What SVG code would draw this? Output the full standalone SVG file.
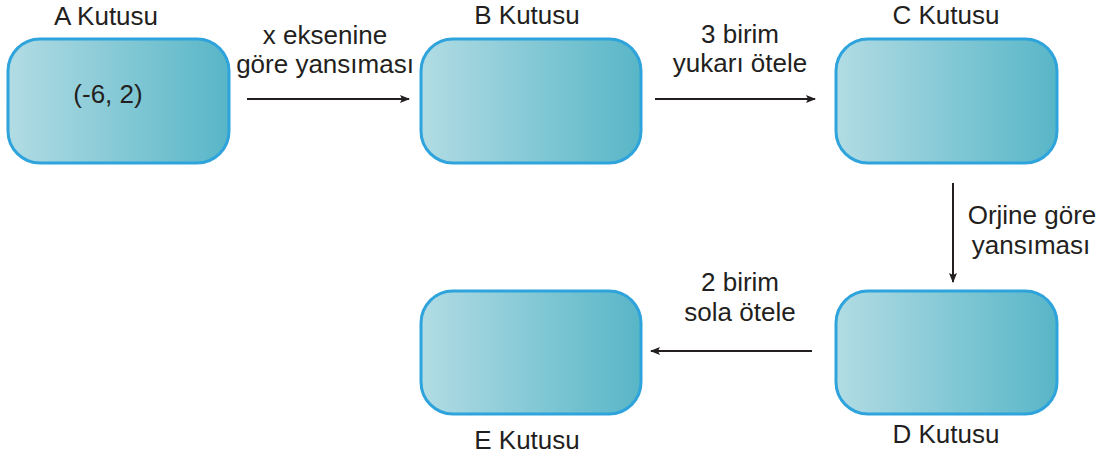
<svg xmlns="http://www.w3.org/2000/svg" width="1108" height="461" viewBox="0 0 1108 461">
<style>
text{font-family:"Liberation Sans",Arial,sans-serif;font-size:26px;fill:#231f20;text-anchor:middle}
.box{fill:url(#g);stroke:#2ea3dc;stroke-width:3}
.c{stroke:#231f20;stroke-width:2;fill:none;marker-end:url(#ah)}
</style>
<defs>
<linearGradient id="g" x1="0" y1="0" x2="1" y2="0">
<stop offset="0" stop-color="#b2dce4"/>
<stop offset="1" stop-color="#58b6c7"/>
</linearGradient>
<marker id="ah" markerWidth="10" markerHeight="8" refX="9" refY="4" orient="auto" markerUnits="userSpaceOnUse">
<path d="M0,0 L10,4 L0,8 L2,4 Z" fill="#231f20"/>
</marker>
</defs>
<rect width="1108" height="461" fill="#fff"/>
<g id="A"><rect class="box" x="8" y="39" width="221" height="124" rx="32"/><text x="106" y="25">A Kutusu</text><text x="108" y="103">(-6, 2)</text></g>
<g id="B"><rect class="box" x="421" y="39" width="220" height="124" rx="32"/><text x="527" y="24">B Kutusu</text></g>
<g id="C"><rect class="box" x="836" y="39" width="221" height="124" rx="32"/><text x="946" y="24">C Kutusu</text></g>
<g id="D"><rect class="box" x="836" y="291" width="221" height="123" rx="32"/><text x="946" y="443">D Kutusu</text></g>
<g id="E"><rect class="box" x="421" y="291" width="220" height="123" rx="32"/><text x="527" y="449">E Kutusu</text></g>
<g id="connectors">
<line class="c" x1="247" y1="99" x2="409" y2="99"/>
<line class="c" x1="655" y1="99" x2="815" y2="99"/>
<line class="c" x1="953" y1="183" x2="953" y2="282"/>
<line class="c" x1="812" y1="351" x2="651" y2="351"/>
<text x="325" y="44">x eksenine</text><text x="325" y="73">göre yansıması</text>
<text x="740" y="43">3 birim</text><text x="740" y="72">yukarı ötele</text>
<text x="1032" y="224">Orjine göre</text><text x="1031" y="254">yansıması</text>
<text x="740" y="291">2 birim</text><text x="740" y="321">sola ötele</text>
</g>
</svg>
